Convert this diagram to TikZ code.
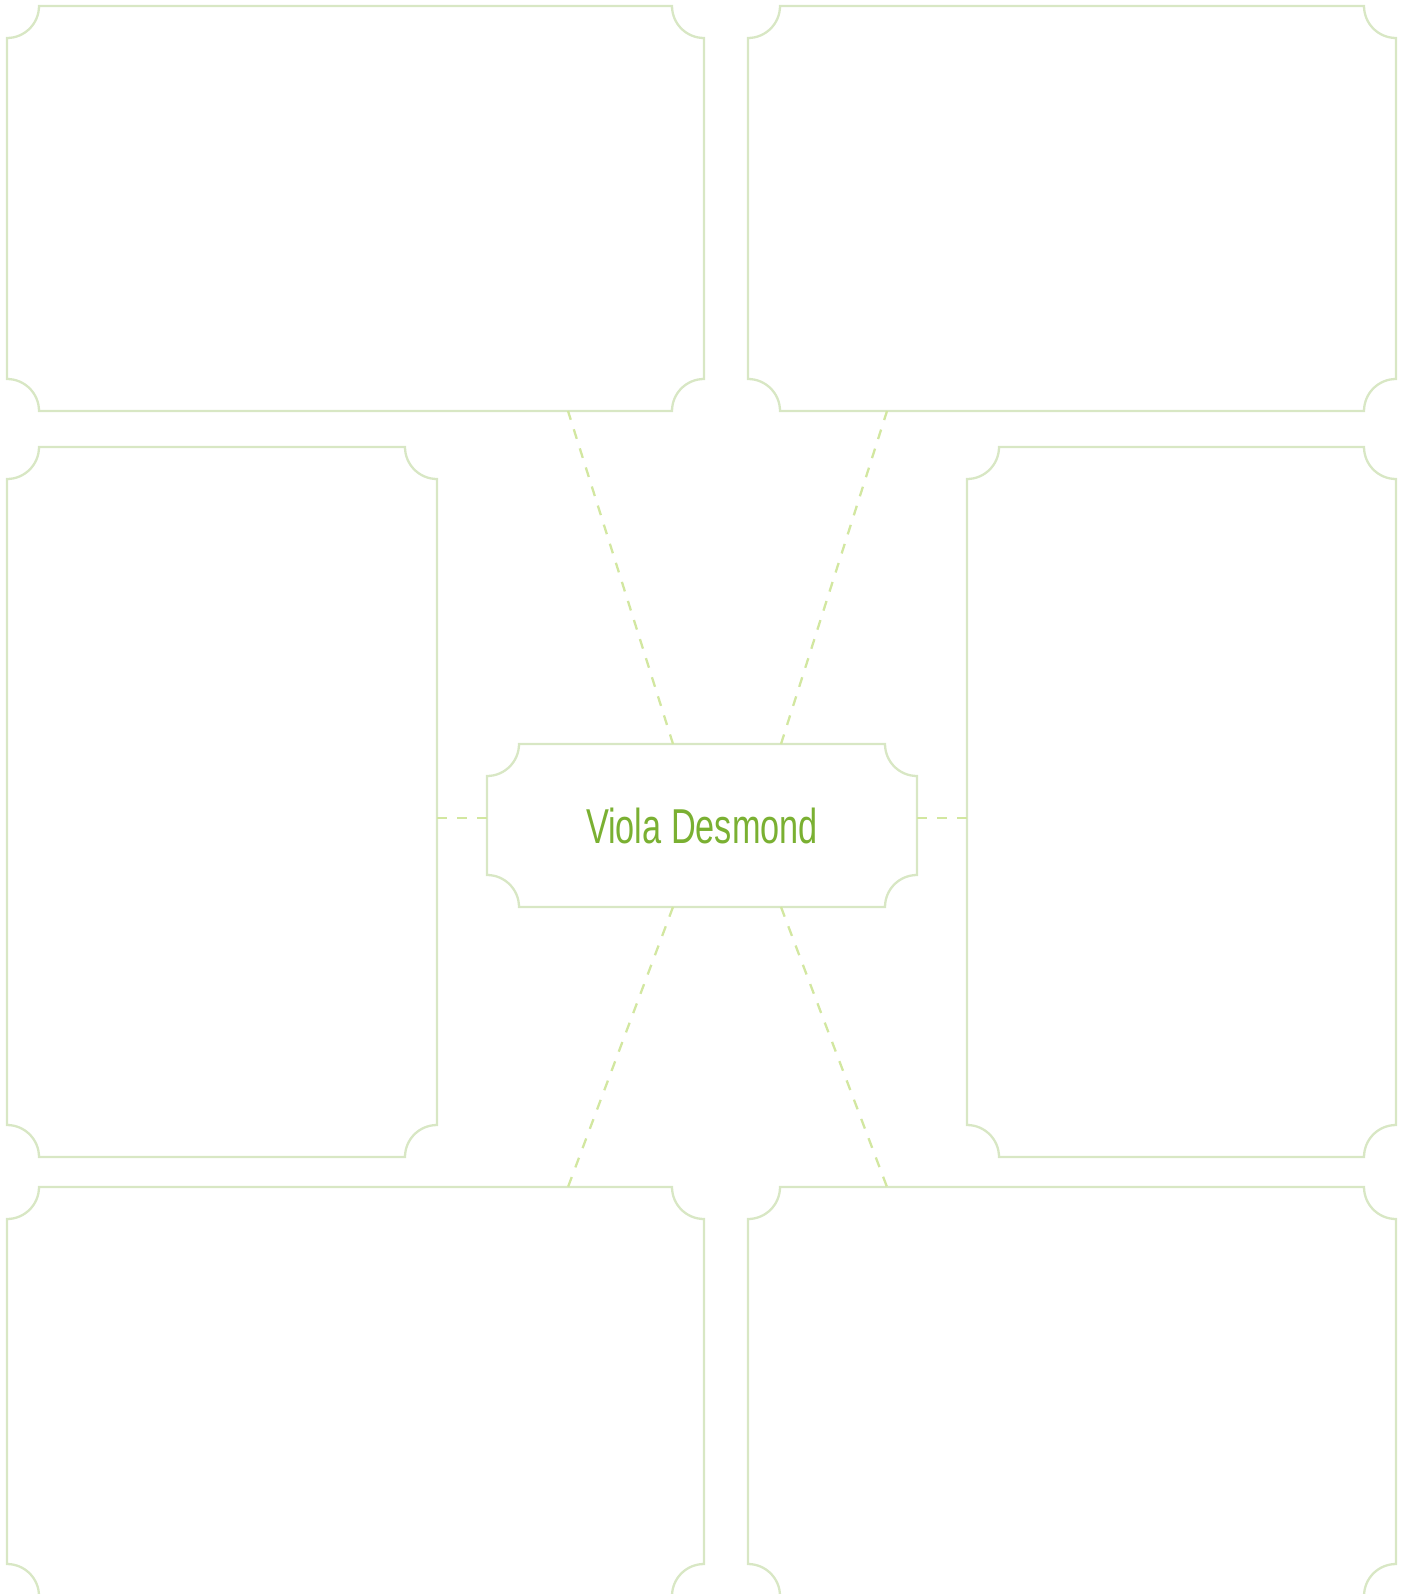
\documentclass[tikz,border=0pt]{standalone}
\usepackage{fontspec}
\setmainfont{Liberation Sans}
\usetikzlibrary{calc}
\definecolor{boxline}{RGB}{216,231,196}
\definecolor{dashline}{RGB}{210,231,160}
\definecolor{titlegreen}{RGB}{122,176,50}
\tikzset{
  ticketframe/.style={draw=boxline, line width=2.3pt},
  linkline/.style={draw=dashline, line width=2.3pt, dash pattern=on 10pt off 10pt},
  lowlink/.style={linkline, dash pattern=on 10.3pt off 10.3pt},
  holder/.style={inner sep=0pt, outer sep=0pt, draw=none}
}
\newcommand\ticketbox[5]{%
  \pgfmathsetmacro\tbw{#4-#2}\pgfmathsetmacro\tbh{#5-#3}%
  \pgfmathsetmacro\tbx{(#2+#4)/2}\pgfmathsetmacro\tby{(#3+#5)/2}%
  \node[holder, minimum width=\tbw pt, minimum height=\tbh pt] (#1) at (\tbx,\tby) {};
  \def\r{32}\def\k{17.7}%
  \draw[ticketframe]
    ($(#1.north west)+(0,\r)$) .. controls ($(#1.north west)+(\k,\r)$) and ($(#1.north west)+(\r,\k)$) .. ($(#1.north west)+(\r,0)$)
    -- ($(#1.north east)+(-\r,0)$) .. controls ($(#1.north east)+(-\r,\k)$) and ($(#1.north east)+(-\k,\r)$) .. ($(#1.north east)+(0,\r)$)
    -- ($(#1.south east)+(0,-\r)$) .. controls ($(#1.south east)+(-\k,-\r)$) and ($(#1.south east)+(-\r,-\k)$) .. ($(#1.south east)+(-\r,0)$)
    -- ($(#1.south west)+(\r,0)$) .. controls ($(#1.south west)+(\r,-\k)$) and ($(#1.south west)+(\k,-\r)$) .. ($(#1.south west)+(0,-\r)$)
    -- cycle;
}
\begin{document}
\begin{tikzpicture}[x=1pt,y=-1pt]
\useasboundingbox (0,0) rectangle (1403,1594);
\clip (0,0) rectangle (1403,1594);
\ticketbox{A}{7}{6}{704}{411}
\ticketbox{B}{748}{6}{1396}{411}
\ticketbox{C}{7}{447}{437}{1157}
\ticketbox{D}{967}{447}{1396}{1157}
\ticketbox{E}{7}{1187}{704}{1596}
\ticketbox{F}{748}{1187}{1396}{1596}
\ticketbox{M}{487}{744}{917}{907}
\node[anchor=base, inner sep=0pt, text=titlegreen, font=\fontsize{49}{55}\selectfont] (T) at (702,843) {\scalebox{0.70}[1]{Viola Desmond}};
% connectors
\draw[linkline] ($(M.north west)+(186,0)$) coordinate (m1) -- ($(A.south west)+(561,0)$) coordinate (a1);
\draw[linkline] ($(M.north west)+(294,0)$) coordinate (m2) -- ($(B.south west)+(139,0)$) coordinate (b1);
\draw[lowlink] ($(M.south west)+(186,0)$) coordinate (m3) -- ($(E.north west)+(561,0)$) coordinate (e1);
\draw[lowlink] ($(M.south west)+(294,0)$) coordinate (m4) -- ($(F.north west)+(139,0)$) coordinate (f1);
\draw[linkline] ($(C.north east)+(0,371)$) coordinate (c1) -- ($(M.north west)+(0,74)$) coordinate (m5);
\draw[linkline] ($(M.north east)+(0,74)$) coordinate (m6) -- ($(D.north west)+(0,371)$) coordinate (d1);
\end{tikzpicture}
\end{document}
